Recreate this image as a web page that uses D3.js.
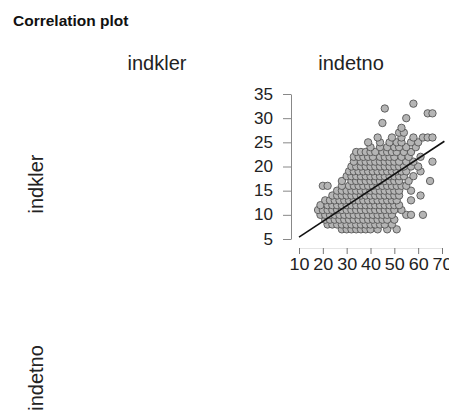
<!DOCTYPE html>
<html>
<head>
<meta charset="utf-8">
<script src="https://cdn.jsdelivr.net/npm/d3@7"></script>
<style>
  html, body { margin: 0; padding: 0; background: #fff; }
  svg { display: block; font-family: "Liberation Sans", Arial, Helvetica, sans-serif; }
</style>
</head>
<body>
<svg id="chart" width="449" height="411"></svg>
<script>
// variable names (rows / columns of the matrix)
const variables = ['indkler', 'indetno'];

// scatter points, grouped by indkler value (y); each row lists the indetno values (x)
const indklerLevels = [7, 8, 9, 10, 11, 12, 13, 14, 15, 16, 17, 18, 19, 20, 21, 22, 23, 24, 25, 26, 27, 28, 29, 30, 31, 32, 33];
const indetnoByLevel = [
  [28, 30, 32, 34, 36, 38, 40, 43, 47, 51],
  [22, 24, 26, 28, 30, 32, 34, 36, 38, 40, 42, 44, 46, 49],
  [21, 23, 25, 27, 29, 31, 33, 35, 37, 39, 41, 43, 45, 47, 50],
  [19, 21, 23, 25, 27, 29, 31, 33, 35, 37, 39, 41, 43, 45, 47, 49, 55, 57, 62],
  [18, 20, 22, 24, 26, 28, 30, 32, 34, 36, 38, 40, 42, 44, 46, 48, 50, 53],
  [19, 22, 24, 26, 28, 30, 32, 34, 36, 38, 40, 42, 44, 46, 48, 50, 52],
  [21, 23, 25, 27, 29, 31, 33, 35, 37, 39, 41, 43, 45, 47, 49, 51, 57],
  [24, 26, 28, 30, 32, 34, 36, 38, 40, 42, 44, 46, 48, 50, 52, 61],
  [26, 28, 30, 32, 34, 36, 38, 40, 42, 44, 46, 48, 50, 52, 57],
  [20, 22, 28, 31, 33, 35, 37, 39, 41, 43, 45, 47, 49, 51, 53, 55],
  [28, 32, 34, 36, 38, 40, 42, 44, 46, 48, 50, 52, 56, 65],
  [30, 32, 34, 36, 38, 40, 42, 44, 46, 48, 50, 52, 54, 58],
  [31, 33, 35, 37, 39, 41, 43, 45, 47, 49, 51, 53, 55, 61],
  [32, 34, 36, 38, 40, 42, 44, 46, 48, 50, 52, 54, 57, 60],
  [33, 36, 38, 40, 42, 44, 46, 48, 50, 52, 55, 58, 66],
  [33, 35, 37, 39, 41, 44, 46, 48, 50, 53, 56, 61],
  [34, 36, 38, 40, 42, 45, 47, 49, 51, 54, 57],
  [40, 44, 47, 50, 52, 55, 59],
  [39, 44, 48, 51, 53, 57, 60],
  [43, 49, 53, 58, 62, 64, 66],
  [52, 54],
  [53],
  [45],
  [55],
  [64, 66],
  [46],
  [58]
];

// fitted regression line
const fitIntercept = 2.15;
const fitSlope = 0.325;
const fitRange = [10, 71];

// axis ticks
const xTicks = [10, 20, 30, 40, 50, 60, 70];
const yTicks = [5, 10, 15, 20, 25, 30, 35];

const points = [];
indklerLevels.forEach((y, i) => {
  indetnoByLevel[i].forEach(x => points.push({ x: x, y: y }));
});

const svg = d3.select('#chart');

// title
svg.append('text')
  .attr('x', 13)
  .attr('y', 26)
  .attr('font-size', 15.5)
  .attr('font-weight', 'bold')
  .attr('fill', '#111')
  .text('Correlation plot');

// matrix layout: column / row centers
const colCenter = d3.scalePoint().domain(variables).range([157, 351]);
const rowCenter = d3.scalePoint().domain(variables).range([184, 378]);

svg.selectAll('text.colhead')
  .data(variables)
  .enter()
  .append('text')
  .attr('class', 'colhead')
  .attr('x', d => colCenter(d))
  .attr('y', 70)
  .attr('text-anchor', 'middle')
  .attr('font-size', 20)
  .attr('fill', '#222')
  .text(d => d);

svg.selectAll('text.rowhead')
  .data(variables)
  .enter()
  .append('text')
  .attr('class', 'rowhead')
  .attr('transform', d => `translate(43,${rowCenter(d)}) rotate(-90)`)
  .attr('text-anchor', 'middle')
  .attr('font-size', 20)
  .attr('fill', '#222')
  .text(d => d);

// scatter panel (row indkler, column indetno)
const x = d3.scaleLinear().domain([10, 70]).range([299, 442]);
const y = d3.scaleLinear().domain([5, 35]).range([239, 94]);

// y axis
const yAxis = svg.append('g')
  .attr('transform', 'translate(291,0)')
  .call(d3.axisLeft(y).tickValues(yTicks).tickSize(8).tickPadding(10).tickSizeOuter(0));
yAxis.select('.domain').attr('stroke', '#888').attr('stroke-width', 1);
yAxis.selectAll('.tick line').attr('stroke', '#888');
yAxis.selectAll('.tick text')
  .attr('font-size', 16)
  .attr('font-family', '"Liberation Sans", Arial, sans-serif')
  .attr('fill', '#222')
  .attr('textLength', d => d < 10 ? 9.5 : 19)
  .attr('lengthAdjust', 'spacingAndGlyphs');

// x axis
const xAxis = svg.append('g')
  .attr('transform', 'translate(0,248)')
  .call(d3.axisBottom(x).tickValues(xTicks).tickSize(6).tickPadding(5).tickSizeOuter(0));
xAxis.select('.domain').attr('stroke', '#e4e4e4').attr('stroke-width', 1);
xAxis.selectAll('.tick line').attr('stroke', '#777');
xAxis.selectAll('.tick text')
  .attr('font-size', 16)
  .attr('font-family', '"Liberation Sans", Arial, sans-serif')
  .attr('fill', '#222')
  .attr('textLength', 20)
  .attr('lengthAdjust', 'spacingAndGlyphs');

// points
svg.append('g')
  .selectAll('circle')
  .data(points)
  .enter()
  .append('circle')
  .attr('cx', d => x(d.x))
  .attr('cy', d => y(d.y))
  .attr('r', 3.7)
  .attr('fill', '#b5b5b5')
  .attr('stroke', '#555')
  .attr('stroke-width', 0.9);

// regression line
const line = d3.line().x(d => x(d)).y(d => y(fitIntercept + fitSlope * d));
svg.append('path')
  .datum(fitRange)
  .attr('d', line)
  .attr('fill', 'none')
  .attr('stroke', '#111')
  .attr('stroke-width', 1.6);
</script>
</body>
</html>
